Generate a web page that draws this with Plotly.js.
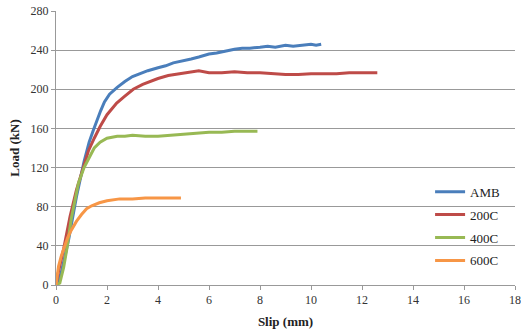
<!DOCTYPE html>
<html>
<head>
<meta charset="utf-8">
<script src="https://cdn.plot.ly/plotly-3.0.1.min.js"></script>
<style>html,body{margin:0;padding:0;background:#fff;}#chart{width:521px;height:330px;}</style>
</head>
<body>
<div id="chart"></div>
<script>
// AMB
const ambSlip = [0,0.1,0.2,0.3,0.4,0.5,0.6,0.7,0.8,0.9,1.0,1.1,1.2,1.3,1.46,1.6,1.75,1.9,2.1,2.4,2.7,3.0,3.3,3.6,4.0,4.3,4.6,5.0,5.3,5.6,6.0,6.3,6.6,7.0,7.3,7.6,8.0,8.3,8.6,9.0,9.3,9.6,10.0,10.2,10.4];
const ambLoad = [0,5,12,22,35,47,62,75,90,102,115,126,136,146,158,168,178,187,195,202,208,213,216,219,222,224,227,229,231,233,236,237,239,241,242,242,243,244,243,245,244,245,246,245,246];
// 200C
const c200Slip = [0,0.1,0.3,0.55,0.8,1.07,1.27,1.5,1.73,2.0,2.38,2.7,3.03,3.4,3.69,4.0,4.4,4.86,5.2,5.6,6.0,6.5,7.0,7.5,8.0,8.5,9.0,9.5,10.0,10.5,11.0,11.5,12.0,12.6];
const c200Load = [0,14,37,70,97,121,137,150,162,174,186,193,200,205,208,211,214,216,217,219,217,217,218,217,217,216,215,215,216,216,216,217,217,217];
// 400C
const c400Slip = [0,0.15,0.3,0.42,0.6,0.88,1.1,1.33,1.5,1.73,2.0,2.4,2.7,3.0,3.5,4.0,4.5,5.0,5.5,6.0,6.5,7.0,7.5,7.9];
const c400Load = [0,2,18,36,68,104,120,132,140,146,150,152,152,153,152,152,153,154,155,156,156,157,157,157];
// 600C
const c600Slip = [0,0.05,0.1,0.2,0.3,0.45,0.6,0.8,1.0,1.2,1.4,1.7,2.0,2.5,3.0,3.5,4.0,4.5,4.9];
const c600Load = [0,10,19,29,37,48,56,65,72,78,81,84,86,88,88,89,89,89,89];

const seriesNames = ["AMB","200C","400C","600C"];
const seriesColors = ["#4a7ebb","#be4b48","#98b954","#f79646"];
const xs = [ambSlip,c200Slip,c400Slip,c600Slip];
const ys = [ambLoad,c200Load,c400Load,c600Load];

const traces = seriesNames.map((n,i)=>({
  x: xs[i], y: ys[i], name: n, type: "scatter", mode: "lines",
  legendgroup: "g"+i,
  line: {color: seriesColors[i], width: 3}
}));

const fam = "Liberation Serif";
const layout = {
  width: 521, height: 330,
  margin: {l: 56, r: 6, t: 11, b: 45},
  paper_bgcolor: "#fff", plot_bgcolor: "#fff",
  font: {family: fam, size: 12, color: "#333"},
  showlegend: true,
  legend: {x: 0.815, y: 0.395, xanchor: "left", yanchor: "top", bgcolor: "rgba(0,0,0,0)",
           font: {family: fam, size: 13, color: "#222"}, tracegroupgap: 3},
  xaxis: {
    range: [0,18], dtick: 2, tick0: 0, showgrid: false, zeroline: false,
    showline: true, linecolor: "#999", linewidth: 1,
    ticks: "outside", ticklen: 4, tickcolor: "#999",
    tickfont: {family: fam, size: 12, color: "#333"},
    title: {text: "<b>Slip (mm)</b>", font: {family: fam, size: 13, color: "#222"}, standoff: 10}
  },
  yaxis: {
    range: [0,280], dtick: 40, tick0: 0, showgrid: true, gridcolor: "#999", gridwidth: 1,
    zeroline: false, showline: true, linecolor: "#999", linewidth: 1,
    ticks: "outside", ticklen: 4, tickcolor: "#999",
    tickfont: {family: fam, size: 12, color: "#333"},
    title: {text: "<b>Load (kN)</b>", font: {family: fam, size: 13, color: "#222"}, standoff: 8}
  }
};
Plotly.newPlot("chart", traces, layout, {displayModeBar: false, staticPlot: true});
</script>
</body>
</html>
